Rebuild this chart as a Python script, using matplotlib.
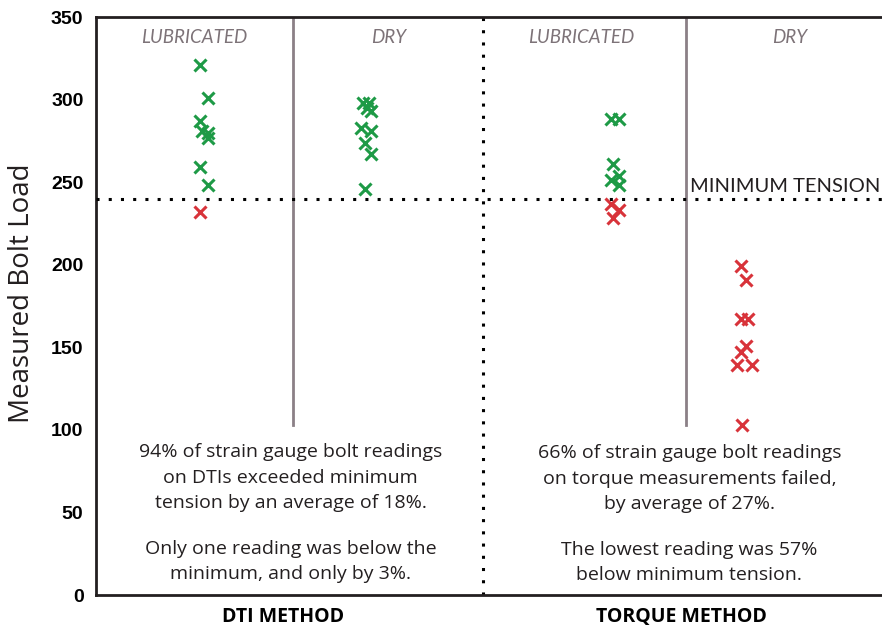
import matplotlib
matplotlib.use("Agg")
import matplotlib.pyplot as plt

# Data
dti_lub = [321, 301, 287, 281, 280, 277, 259, 248, 232]
dti_lub_x = [0.53, 0.57, 0.53, 0.54, 0.57, 0.57, 0.53, 0.57, 0.53]
dti_dry = [298, 298, 295, 293, 283, 281, 274, 267, 246]
dti_dry_x = [1.36, 1.39, 1.38, 1.40, 1.35, 1.40, 1.37, 1.40, 1.37]
tq_lub = [288, 288, 261, 254, 251, 248, 237, 233, 228]
tq_lub_x = [2.62, 2.66, 2.63, 2.66, 2.62, 2.66, 2.62, 2.66, 2.63]
tq_dry = [199, 191, 167, 167, 151, 147, 139, 139, 103]
tq_dry_x = [3.28, 3.31, 3.28, 3.32, 3.31, 3.28, 3.26, 3.34, 3.29]

min_tension = 240
yticks = [0, 50, 100, 150, 200, 250, 300, 350]
cat_labels = ["LUBRICATED", "DRY", "LUBRICATED", "DRY"]
cat_x = [0.5, 1.49, 2.47, 3.53]
method_labels = ["DTI METHOD", "TORQUE METHOD"]
method_x = [0.95, 2.98]

GREEN = "#1e9a46"
RED = "#d8333a"
GREY = "#8b8086"
TXT = "#231f20"

fig = plt.figure(figsize=(8.82, 6.27), dpi=100)
ax = fig.add_axes([96/882, 32/627, 786/882, 578/627])
ax.set_xlim(0, 4)
ax.set_ylim(0, 350)

def plot_group(xs, ys):
    for x, y in zip(xs, ys):
        c = GREEN if y >= min_tension else RED
        ax.plot(x, y, marker='x', color=c, markersize=8.5, markeredgewidth=2.2, linestyle='none', zorder=5)

plot_group(dti_lub_x, dti_lub)
plot_group(dti_dry_x, dti_dry)
plot_group(tq_lub_x, tq_lub)
plot_group(tq_dry_x, tq_dry)

# dividers
ax.plot([1, 1], [103, 350], color=GREY, lw=2, zorder=2)
ax.plot([3, 3], [103, 350], color=GREY, lw=2, zorder=2)
ax.plot([1.97, 1.97], [0, 350], color="black", lw=2.2, linestyle=(0, (1, 3)), zorder=2)
ax.plot([0, 4], [min_tension, min_tension], color="black", lw=2.2, linestyle=(0, (1, 3)), zorder=3)

ax.text(3.99, 247.5, "MINIMUM TENSION", ha="right", va="center", fontsize=14.5,
        family="Lato", color=TXT)

for lbl, x in zip(cat_labels, cat_x):
    ax.text(x, 337.5, lbl, ha="center", va="center", fontsize=13.5, style="italic",
            family="Lato", color="#7d7378")

t1 = "94% of strain gauge bolt readings\non DTIs exceeded minimum\ntension by an average of 18%."
t2 = "Only one reading was below the\nminimum, and only by 3%."
t3 = "66% of strain gauge bolt readings\non torque measurements failed,\nby average of 27%."
t4 = "The lowest reading was 57%\nbelow minimum tension."
kw = dict(ha="center", va="top", fontsize=14, family="Open Sans", color=TXT, linespacing=1.55)
ax.text(0.99, 92, t1, **kw)
ax.text(0.99, 33.5, t2, **kw)
ax.text(3.02, 91.5, t3, **kw)
ax.text(3.02, 33, t4, **kw)

ax.set_yticks(yticks)
ax.set_yticklabels([str(v) for v in yticks], fontsize=14, fontweight="bold", family="Liberation Sans")
ax.tick_params(axis='y', length=0, pad=9)
ax.set_xticks([])
for lbl, x in zip(method_labels, method_x):
    ax.text(x, -13.5, lbl, ha="center", va="center", fontsize=14, fontweight="bold",
            family="Open Sans", color="black")

ax.set_ylabel("Measured Bolt Load", fontsize=20, family="Open Sans", color=TXT)
ax.yaxis.label.set_va("center")
ax.yaxis.set_label_coords(-0.094, 0.522)

ax.spines['right'].set_visible(False)
for s in ['left', 'bottom', 'top']:
    ax.spines[s].set_linewidth(2)
    ax.spines[s].set_color("#231f20")

fig.savefig("out.png", dpi=100)
